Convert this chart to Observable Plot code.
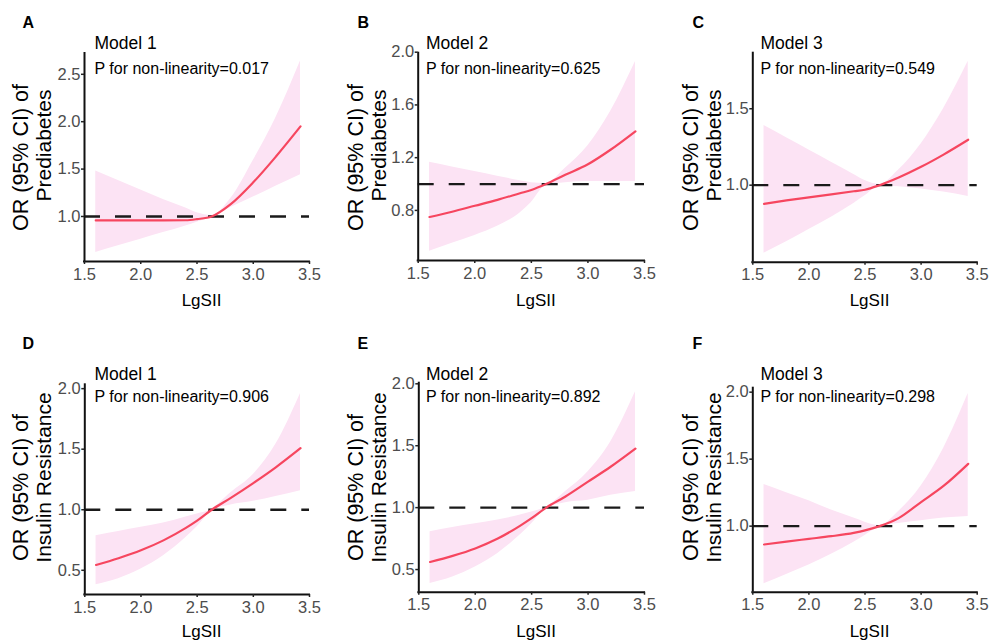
<!DOCTYPE html>
<html>
<head>
<meta charset="utf-8">
<script src="https://cdn.jsdelivr.net/npm/d3@7"></script>
<script src="https://cdn.jsdelivr.net/npm/@observablehq/plot@0.6"></script>
<style>
  html, body { margin: 0; padding: 0; background: #fff; }
  #fig { position: relative; width: 989px; height: 641px; background: #fff; overflow: hidden; }
  .cell { position: absolute; }
</style>
</head>
<body>
<div id="fig"></div>
<script>
// Restricted cubic spline fits: OR (95% CI) against LgSII
const lgsii = [1.6, 1.8, 2.0, 2.2, 2.4, 2.5, 2.63, 2.8, 3.0, 3.2, 3.42];

// A: Prediabetes, Model 1
const orA = [0.958, 0.958, 0.958, 0.958, 0.96, 0.972, 1.0, 1.13, 1.36, 1.63, 1.95];
const loA = [0.62, 0.69, 0.76, 0.83, 0.90, 0.94, 0.99, 1.095, 1.205, 1.32, 1.44];
const hiA = [1.48, 1.38, 1.28, 1.18, 1.09, 1.04, 1.01, 1.19, 1.59, 2.04, 2.64];
// B: Prediabetes, Model 2
const orB = [0.75, 0.79, 0.835, 0.88, 0.93, 0.955, 1.0, 1.07, 1.15, 1.26, 1.40];
const loB = [0.49, 0.55, 0.61, 0.68, 0.78, 0.86, 0.99, 1.01, 1.02, 1.02, 1.02];
const hiB = [1.165, 1.13, 1.095, 1.06, 1.025, 1.01, 1.005, 1.12, 1.29, 1.55, 1.93];
// C: Prediabetes, Model 3
const orC = [0.878, 0.90, 0.92, 0.94, 0.96, 0.97, 1.0, 1.05, 1.12, 1.2, 1.297];
const loC = [0.555, 0.63, 0.71, 0.79, 0.88, 0.93, 0.995, 0.99, 0.975, 0.955, 0.926];
const hiC = [1.39, 1.31, 1.23, 1.15, 1.07, 1.03, 1.005, 1.1, 1.27, 1.5, 1.81];
// D: Insulin resistance, Model 1
const orD = [0.544, 0.60, 0.665, 0.747, 0.85, 0.91, 1.0, 1.098, 1.22, 1.35, 1.508];
const loD = [0.38, 0.43, 0.51, 0.62, 0.77, 0.86, 0.99, 1.04, 1.07, 1.11, 1.157];
const hiD = [0.785, 0.82, 0.855, 0.89, 0.94, 0.965, 1.005, 1.14, 1.29, 1.54, 1.96];
// E: Insulin resistance, Model 2
const orE = [0.561, 0.61, 0.67, 0.75, 0.855, 0.915, 1.0, 1.09, 1.21, 1.33, 1.477];
const loE = [0.388, 0.44, 0.52, 0.63, 0.78, 0.87, 0.99, 1.04, 1.06, 1.1, 1.13];
const hiE = [0.806, 0.84, 0.87, 0.9, 0.94, 0.965, 1.005, 1.13, 1.29, 1.53, 1.935];
// F: Insulin resistance, Model 3
const orF = [0.863, 0.885, 0.905, 0.925, 0.95, 0.968, 1.0, 1.06, 1.18, 1.3, 1.465];
const loF = [0.57, 0.64, 0.71, 0.79, 0.88, 0.93, 0.995, 1.02, 1.04, 1.06, 1.072];
const hiF = [1.31, 1.25, 1.19, 1.12, 1.06, 1.03, 1.005, 1.11, 1.3, 1.58, 1.99];

const panelTags = ["A", "B", "C", "D", "E", "F"];
const modelNames = ["Model 1", "Model 2", "Model 3", "Model 1", "Model 2", "Model 3"];
const pNonlinear = ["0.017", "0.625", "0.549", "0.906", "0.892", "0.298"];
const outcomes = ["Prediabetes", "Prediabetes", "Prediabetes",
                  "Insulin Resistance", "Insulin Resistance", "Insulin Resistance"];
const yTitleTop = "OR (95% CI) of";
const xTitle = "LgSII";

const xTicks = [1.5, 2.0, 2.5, 3.0, 3.5];
const yTicksA = [1.0, 1.5, 2.0, 2.5];
const yTicksB = [0.8, 1.2, 1.6, 2.0];
const yTicksC = [1.0, 1.5];
const yTicksD = [0.5, 1.0, 1.5, 2.0];
const yTicksE = [0.5, 1.0, 1.5, 2.0];
const yTicksF = [1.0, 1.5, 2.0];

const xDomain = [1.5, 3.5];
const yDomainA = [0.525, 2.73];
const yDomainB = [0.42, 2.0];
const yDomainC = [0.496, 1.87];
const yDomainD = [0.30, 2.04];
const yDomainE = [0.317, 2.013];
const yDomainF = [0.507, 2.037];

// ---- layout of the 2 x 3 grid ----
const colX = [0, 330, 660], colW = [330, 330, 329];
const rowY = [0, 320], rowH = [320, 321];
const frames = [
  {x0: 84, x1: 309, y0: 52, y1: 261},
  {x0: 417.7, x1: 644, y0: 51.7, y1: 260},
  {x0: 752.3, x1: 976.7, y0: 51.7, y1: 261.7},
  {x0: 84.3, x1: 309, y0: 383.3, y1: 594},
  {x0: 418.3, x1: 644, y0: 381.7, y1: 591.7},
  {x0: 752.3, x1: 976.7, y0: 386.7, y1: 591.7}
];
const tagX = [22, 357, 692], tagBase = [27.5, 348];
const noteX = [94, 425.5, 760], modelBase = [48.5, 379.5], pBase = [73, 401.5];
const yLab1X = [27, 362, 697], yLab2X = [50, 385, 720];
const yLab1C = [157, 487], yLab2C = [145, 477];
const xLabBase = [305.5, 636.5];

const RED = "#F6465F";
const BAND = "#FCE3F4";
const INK = "#111";
const TICK_TEXT = "#4D4D4D";
const FONT = "'Liberation Sans', Arial, Helvetica, sans-serif";
const TICK_FONT = 16.5;

const series = [
  [orA, loA, hiA, yTicksA, yDomainA],
  [orB, loB, hiB, yTicksB, yDomainB],
  [orC, loC, hiC, yTicksC, yDomainC],
  [orD, loD, hiD, yTicksD, yDomainD],
  [orE, loE, hiE, yTicksE, yDomainE],
  [orF, loF, hiF, yTicksF, yDomainF]
];

const fig = document.getElementById("fig");
const fmt = d3.format(".1f");
const blank = () => "";

series.forEach(([or, lo, hi, yTicks, yDomain], i) => {
  const col = i % 3, row = Math.floor(i / 3);
  const cx = colX[col], cy = rowY[row], cw = colW[col], ch = rowH[row];
  const f = frames[i];
  const rows = lgsii.map((x, j) => ({x, or: or[j], lo: lo[j], hi: hi[j]}));
  const midY = (f.y0 + f.y1) / 2;

  const label = (text, opts) => Plot.text([text], {text: d => d, fill: "#000", ...opts});

  const chart = Plot.plot({
    width: cw,
    height: ch,
    marginLeft: f.x0 - cx,
    marginRight: cx + cw - f.x1,
    marginTop: f.y0 - cy,
    marginBottom: cy + ch - f.y1,
    style: {fontFamily: FONT, background: "transparent", overflow: "visible"},
    x: {domain: xDomain},
    y: {domain: yDomain},
    marks: [
      Plot.areaY(rows, {x: "x", y1: "lo", y2: "hi", fill: BAND, curve: "monotone-x"}),
      Plot.ruleY([1], {stroke: "#1a1a1a", strokeWidth: 2.3, strokeDasharray: "16,15"}),
      Plot.lineY(rows, {x: "x", y: "or", stroke: RED, strokeWidth: 2.2, curve: "monotone-x"}),
      Plot.ruleX([xDomain[0]], {stroke: INK, strokeWidth: 2}),
      Plot.ruleY([yDomain[0]], {stroke: INK, strokeWidth: 2, strokeLinecap: "square"}),
      // tick marks
      Plot.axisX(xTicks, {tickSize: 3, stroke: "#222", strokeWidth: 1.5, tickFormat: blank, label: null}),
      Plot.axisY(yTicks, {tickSize: 3, stroke: "#222", strokeWidth: 1.5, tickFormat: blank, label: null}),
      // tick labels
      Plot.text(xTicks, {x: d => d, text: fmt, frameAnchor: "bottom", lineAnchor: "top",
        dy: 6.5, fontSize: TICK_FONT, fill: TICK_TEXT}),
      Plot.text(yTicks, {y: d => d, text: fmt, frameAnchor: "left", textAnchor: "end",
        dx: -4, fontSize: TICK_FONT, fill: TICK_TEXT}),
      // panel tag
      label(panelTags[i], {frameAnchor: "top-left", textAnchor: "start", lineAnchor: "bottom",
        dx: tagX[col] - f.x0, dy: tagBase[row] - f.y0, fontSize: 16, fontWeight: "bold"}),
      // model name and non-linearity test
      label(modelNames[i], {frameAnchor: "top-left", textAnchor: "start", lineAnchor: "bottom",
        dx: noteX[col] - f.x0, dy: modelBase[row] - f.y0, fontSize: 17.5}),
      label("P for non-linearity=" + pNonlinear[i], {frameAnchor: "top-left", textAnchor: "start",
        lineAnchor: "bottom", dx: noteX[col] - f.x0, dy: pBase[row] - f.y0, fontSize: 16}),
      // y title, two lines
      label(yTitleTop, {frameAnchor: "left", rotate: -90, textAnchor: "middle", lineAnchor: "bottom",
        dx: yLab1X[col] - f.x0, dy: yLab1C[row] - midY, fontSize: 21.5}),
      label(outcomes[i], {frameAnchor: "left", rotate: -90, textAnchor: "middle", lineAnchor: "bottom",
        dx: yLab2X[col] - f.x0, dy: yLab2C[row] - midY, fontSize: 21}),
      // x title
      label(xTitle, {frameAnchor: "bottom", textAnchor: "middle", lineAnchor: "bottom",
        dx: 4.5, dy: xLabBase[row] - f.y1, fontSize: 17})
    ]
  });

  const wrap = document.createElement("div");
  wrap.className = "cell";
  wrap.style.left = cx + "px";
  wrap.style.top = cy + "px";
  wrap.style.width = cw + "px";
  wrap.style.height = ch + "px";
  wrap.appendChild(chart);
  fig.appendChild(wrap);
});
</script>
</body>
</html>
